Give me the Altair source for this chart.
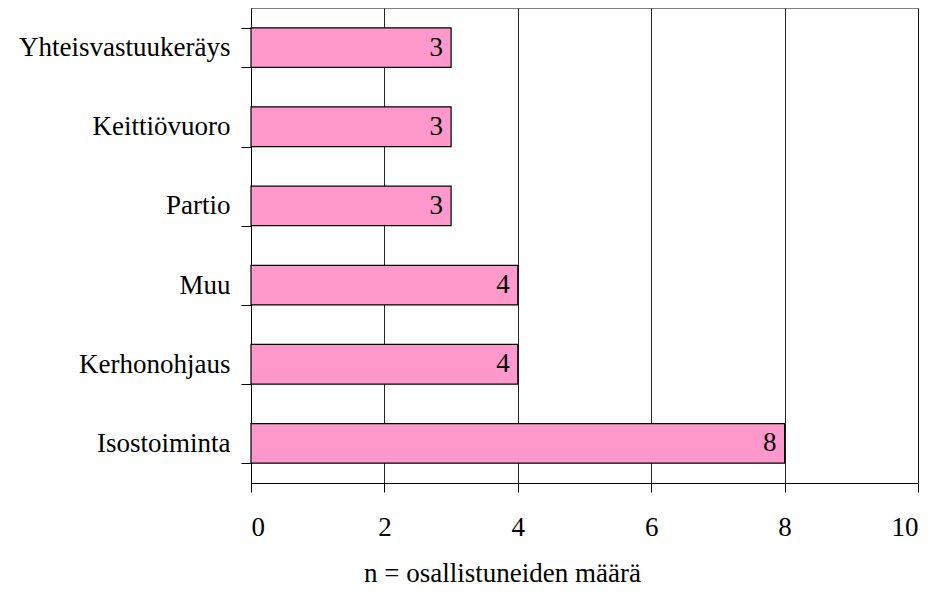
import altair as alt
import pandas as pd

categories = ["Yhteisvastuukeräys", "Keittiövuoro", "Partio", "Muu", "Kerhonohjaus", "Isostoiminta"]
values = [3, 3, 3, 4, 4, 8]
x_ticks = [0, 2, 4, 6, 8, 10]

df = pd.DataFrame({"cat": categories, "val": values})
FONT = "Times New Roman"
FS = 27

y_enc = alt.Y("cat:N", sort=categories, title=None,
              scale=alt.Scale(paddingInner=0.5, paddingOuter=0.25),
              axis=alt.Axis(labelFont=FONT, labelFontSize=FS, labelColor="black",
                            labelLimit=400,
                            tickBand="extent", tickColor="black", tickSize=10,
                            domainColor="black", labelPadding=11, grid=False))
x_enc = alt.X("val:Q", title="n = osallistuneiden määrä",
              scale=alt.Scale(domain=[0, 10], nice=False),
              axis=alt.Axis(values=x_ticks, format="d", labelFont=FONT, labelFontSize=FS,
                            labelColor="black", titleFont=FONT, titleFontSize=FS,
                            titleFontWeight="normal", titleColor="black",
                            titleX=251, titleY=90, titleAlign="center", titleBaseline="middle",
                            tickColor="black", tickSize=9,
                            labelPadding=22, domainColor="black",
                            gridColor="black", gridOpacity=0.85))

bars = alt.Chart(df).mark_bar(color="#FF99CC", stroke="black", strokeWidth=1.2).encode(
    x=x_enc, y=y_enc)
labels = alt.Chart(df).mark_text(align="right", dx=-8, font=FONT, fontSize=FS,
                                 color="black").encode(
    x="val:Q", y=alt.Y("cat:N", sort=categories), text="val:Q")

chart = alt.layer(bars, labels).properties(
    width=667, height=475,
    padding={"left": 243, "top": 0, "right": 10, "bottom": 110},
    autosize=alt.AutoSizeParams(type="none"),
    view=alt.ViewBackground(stroke="#808080"),
)

chart.save("out.html", embed_options={"renderer": "svg", "actions": False})
